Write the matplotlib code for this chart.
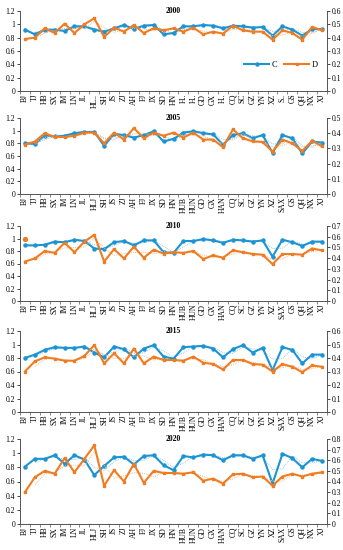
import numpy as np
import pandas as pd
import matplotlib
matplotlib.use("Agg")
import matplotlib.pyplot as plt
from matplotlib.ticker import FuncFormatter

plt.rcParams['font.family'] = ['Liberation Serif', 'DejaVu Serif']

provinces = ["BJ", "TJ", "HB", "SX", "IM", "LN", "JL", "HLJ", "SH", "JS", "ZJ", "AH", "FJ", "JX",
             "SD", "HN", "HUB", "HUN", "GD", "GX", "HAN", "CQ", "SC", "GZ", "YN", "XZ", "SAX",
             "GS", "QH", "NX", "XJ"]
# the 2000 panel has some clipped labels
labels_2000 = ["BJ", "TJ", "HB", "SX", "IM", "LN", "JL", "HL..", "SH", "JS", "ZJ", "AH", "FJ", "JX",
               "SD", "HN", "H..", "H..", "GD", "GX", "H..", "CQ", "SC", "GZ", "YN", "XZ", "S..",
               "GS", "QH", "NX", "XJ"]

years = ["2000", "2005", "2010", "2015", "2020"]
right_max = [0.6, 0.5, 0.7, 0.6, 0.8]

c_2000 = [0.92, 0.85, 0.92, 0.92, 0.90, 0.97, 0.97, 0.92, 0.89, 0.94, 0.99, 0.93, 0.98, 0.99, 0.85, 0.87,
          0.97, 0.97, 0.99, 0.98, 0.94, 0.98, 0.97, 0.95, 0.96, 0.83, 0.97, 0.92, 0.83, 0.93, 0.93]
d_2000 = [0.39, 0.40, 0.47, 0.435, 0.505, 0.435, 0.50, 0.545, 0.405, 0.475, 0.445, 0.495, 0.435, 0.47,
          0.455, 0.47, 0.445, 0.475, 0.425, 0.445, 0.43, 0.49, 0.455, 0.445, 0.445, 0.385, 0.455,
          0.435, 0.385, 0.48, 0.455]

c_2005 = [0.80, 0.79, 0.92, 0.91, 0.92, 0.96, 0.98, 0.98, 0.76, 0.95, 0.93, 0.89, 0.93, 0.99, 0.83, 0.87,
          0.97, 0.99, 0.96, 0.94, 0.78, 0.93, 0.96, 0.88, 0.93, 0.65, 0.93, 0.88, 0.64, 0.83, 0.81]
d_2005 = [0.325, 0.345, 0.40, 0.375, 0.375, 0.383, 0.404, 0.404, 0.333, 0.404, 0.358, 0.433, 0.367, 0.404,
          0.383, 0.404, 0.371, 0.404, 0.358, 0.358, 0.308, 0.425, 0.367, 0.346, 0.342, 0.279, 0.358,
          0.333, 0.283, 0.35, 0.313]

c_2010 = [0.89, 0.89, 0.90, 0.95, 0.94, 0.98, 0.96, 0.84, 0.83, 0.94, 0.96, 0.89, 0.97, 0.97, 0.78, 0.77,
          0.96, 0.96, 0.99, 0.97, 0.93, 0.98, 0.97, 0.95, 0.97, 0.71, 0.98, 0.94, 0.88, 0.95, 0.95]
d_2010 = [0.368, 0.397, 0.467, 0.449, 0.543, 0.455, 0.554, 0.618, 0.368, 0.484, 0.397, 0.508, 0.403, 0.478,
          0.443, 0.455, 0.449, 0.467, 0.391, 0.426, 0.403, 0.473, 0.455, 0.438, 0.432, 0.344, 0.438,
          0.438, 0.432, 0.49, 0.473]
stray_2010 = 0.583  # lone orange point at BJ

c_2015 = [0.80, 0.85, 0.92, 0.96, 0.95, 0.95, 0.97, 0.88, 0.81, 0.97, 0.93, 0.81, 0.94, 0.99, 0.82, 0.79,
          0.96, 0.97, 0.98, 0.94, 0.81, 0.93, 0.99, 0.88, 0.95, 0.62, 0.96, 0.92, 0.72, 0.85, 0.85]
d_2015 = [0.30, 0.375, 0.405, 0.395, 0.38, 0.38, 0.415, 0.495, 0.36, 0.435, 0.36, 0.47, 0.36, 0.41,
          0.385, 0.385, 0.38, 0.41, 0.365, 0.355, 0.315, 0.385, 0.385, 0.355, 0.35, 0.30, 0.355,
          0.335, 0.295, 0.345, 0.335]

c_2020 = [0.81, 0.92, 0.92, 0.97, 0.85, 0.97, 0.91, 0.69, 0.82, 0.94, 0.95, 0.84, 0.96, 0.97, 0.83, 0.76,
          0.96, 0.94, 0.98, 0.97, 0.90, 0.97, 0.97, 0.92, 0.97, 0.57, 0.99, 0.93, 0.80, 0.92, 0.89]
d_2020 = [0.30, 0.44, 0.50, 0.473, 0.62, 0.487, 0.613, 0.74, 0.36, 0.507, 0.40, 0.567, 0.387, 0.50,
          0.48, 0.48, 0.473, 0.487, 0.407, 0.427, 0.38, 0.467, 0.473, 0.44, 0.447, 0.36, 0.447,
          0.473, 0.447, 0.473, 0.487]

c_all = [c_2000, c_2005, c_2010, c_2015, c_2020]
d_all = [d_2000, d_2005, d_2010, d_2015, d_2020]

blue = "#1c94d4"
orange = "#f07c22"
blue_light = "#9cc8e8"
orange_light = "#f6b98a"

# panel boxes in pixels: (top, bottom)
boxes = [(11, 91), (118, 194), (226, 301), (331, 412), (439, 524)]
W, H = 343, 550
left_px, right_px = 20, 327

fig = plt.figure(figsize=(W / 100, H / 100), dpi=100)
x = np.arange(len(provinces))
fmt = FuncFormatter(lambda v, p: "%g" % round(v, 2))

for i, year in enumerate(years):
    top, bot = boxes[i]
    ax = fig.add_axes([left_px / W, 1 - bot / H, (right_px - left_px) / W, (bot - top) / H])
    ax2 = ax.twinx()

    c = pd.Series(c_all[i])
    d = pd.Series(d_all[i])

    # two-period moving averages (dotted trend lines)
    ax.plot(x, c.rolling(2).mean(), color=blue_light, lw=0.7, ls=(0, (1, 1)), zorder=1)
    ax2.plot(x, d.rolling(2).mean(), color=orange_light, lw=0.7, ls=(0, (1, 1)), zorder=1)
    lc, = ax.plot(x, c, color=blue, lw=1.5, marker="o", ms=2.2, zorder=3, label="C")
    ld, = ax2.plot(x, d, color=orange, lw=1.5, marker="s", ms=2, zorder=2, label="D")
    if year == "2010":
        ax2.plot([0], [stray_2010], color=orange, marker="o", ms=2.8, ls="none")

    ax.set_xlim(-0.5, len(provinces) - 0.5)
    ax.set_ylim(0, 1.2)
    ax2.set_ylim(0, right_max[i])
    ax.set_yticks(np.arange(0, 1.21, 0.2))
    ax2.set_yticks(np.arange(0, right_max[i] + 0.001, 0.1))
    ax.yaxis.set_major_formatter(fmt)
    ax2.yaxis.set_major_formatter(fmt)

    ax.set_xticks(x)
    ax.set_xticklabels(labels_2000 if year == "2000" else provinces, rotation=90, fontsize=5.5)
    ax.set_xticks(np.arange(-0.5, len(provinces), 1), minor=True)
    ax.tick_params(axis="x", which="major", length=0, pad=2)
    ax.tick_params(axis="x", which="minor", length=2, width=0.5, color="#555555")
    ax.tick_params(axis="y", labelsize=5.5, length=2, width=0.5, pad=1.5)
    ax2.tick_params(axis="y", labelsize=5.5, length=2, width=0.5, pad=1.5)

    for a in (ax, ax2):
        a.spines["top"].set_visible(False)
        for s in ("left", "right", "bottom"):
            a.spines[s].set_linewidth(0.6)
            a.spines[s].set_color("#555555")

    ax.text(0.5, 1.0, year, transform=ax.transAxes, ha="center", va="center",
            fontsize=5.5, fontweight="bold")

    if year == "2000":
        ax.legend([lc, ld], ["C", "D"], loc="center", bbox_to_anchor=(0.85, 0.33), ncol=2,
                  frameon=False, fontsize=6, handlelength=3, columnspacing=0.8, handletextpad=0.3)

fig.savefig("out.png", dpi=100)
